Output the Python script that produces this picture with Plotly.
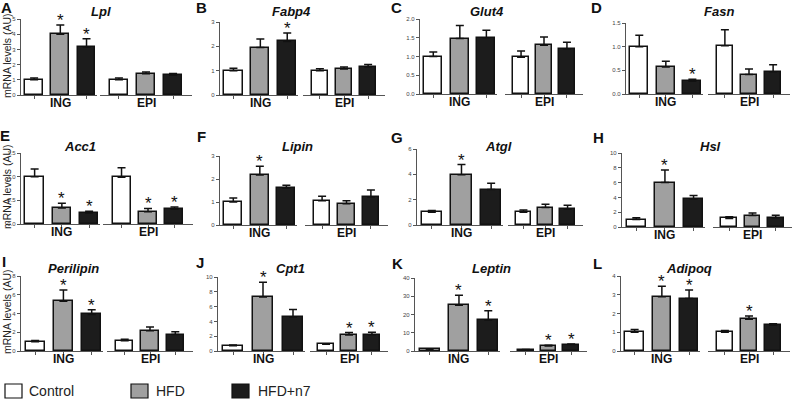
import plotly.graph_objects as go

W, H = 795, 406

genes = ["Lpl", "Fabp4", "Glut4", "Fasn", "Acc1", "Lipin", "Atgl", "Hsl", "Perilipin", "Cpt1", "Leptin", "Adipoq"]
letters = ["A", "B", "C", "D", "E", "F", "G", "H", "I", "J", "K", "L"]
groups = ["Control", "HFD", "HFD+n7"]
tissues = ["ING", "EPI"]

# mean values [ING(Control,HFD,HFD+n7), EPI(Control,HFD,HFD+n7)]
ing_vals = [
    [1.0, 4.0, 3.15], [1.0, 1.95, 2.2], [1.0, 1.48, 1.5], [1.0, 0.57, 0.27],
    [1.0, 0.34, 0.23], [1.0, 2.17, 1.6], [1.0, 3.97, 2.8], [1.0, 6.0, 3.75],
    [1.0, 5.3, 3.9], [0.7, 7.3, 4.6], [1.0, 25.0, 17.0], [1.0, 2.9, 2.8],
]
ing_err = [
    [0.12, 0.6, 0.55], [0.1, 0.35, 0.35], [0.12, 0.35, 0.2], [0.24, 0.12, 0.04],
    [0.16, 0.1, 0.04], [0.17, 0.38, 0.13], [0.15, 0.8, 0.5], [0.25, 1.7, 0.5],
    [0.12, 1.2, 0.5], [0.1, 2.0, 1.0], [0.1, 5.5, 5.0], [0.15, 0.55, 0.45],
]
epi_vals = [
    [1.0, 1.4, 1.3], [1.0, 1.07, 1.15], [0.98, 1.3, 1.2], [1.02, 0.41, 0.47],
    [0.99, 0.26, 0.31], [1.05, 0.92, 1.22], [1.0, 1.38, 1.25], [1.15, 1.55, 1.25],
    [1.1, 2.15, 1.75], [0.9, 2.15, 2.2], [0.7, 2.7, 3.5], [1.0, 1.7, 1.38],
]
epi_err = [
    [0.12, 0.12, 0.12], [0.08, 0.08, 0.1], [0.17, 0.22, 0.18], [0.34, 0.12, 0.15],
    [0.2, 0.07, 0.05], [0.2, 0.13, 0.3], [0.18, 0.25, 0.3], [0.25, 0.35, 0.35],
    [0.15, 0.4, 0.3], [0.08, 0.35, 0.35], [0.1, 0.5, 0.4], [0.1, 0.17, 0.08],
]
# significance stars (1 = star)
ing_sig = [
    [0, 1, 1], [0, 0, 1], [0, 0, 0], [0, 0, 1], [0, 1, 1], [0, 1, 0],
    [0, 1, 0], [0, 1, 0], [0, 1, 1], [0, 1, 0], [0, 1, 1], [0, 1, 1],
]
epi_sig = [
    [0, 0, 0], [0, 0, 0], [0, 0, 0], [0, 0, 0], [0, 1, 1], [0, 0, 0],
    [0, 0, 0], [0, 0, 0], [0, 0, 0], [0, 1, 1], [0, 1, 1], [0, 1, 0],
]
y_max = [5, 3, 2.0, 1.5, 1.5, 3, 6, 10, 8, 10, 40, 4]
y_ticks = [
    [0, 1, 2, 3, 4, 5], [0, 1, 2, 3], [0, 0.5, 1, 1.5, 2], [0, 0.5, 1, 1.5],
    [0, 0.5, 1, 1.5], [0, 1, 2, 3], [0, 2, 4, 6], [0, 2, 4, 6, 8, 10],
    [0, 2, 4, 6, 8], [0, 2, 4, 6, 8, 10], [0, 10, 20, 30, 40], [0, 1, 2, 3, 4],
]
y_ticktext = [
    None, None, ["0.0", "0.5", "1.0", "1.5", "2.0"], ["0.0", "0.5", "1.0", "1.5"],
    ["0.0", "0.5", "1.0", "1.5"], None, None, None, None, None, None, None,
]

# pixel layout: (top, bottom, ING x0, ING x1, EPI x0, EPI x1)
boxes = [
    (19, 95, 21, 97, 100, 192), (22, 95, 220, 298, 303, 385),
    (19, 94, 420, 497, 505, 583), (23, 94, 626, 703, 708, 790),
    (153, 224, 21, 100, 103, 193), (156, 225, 220, 297, 305, 388),
    (149, 225, 417, 503, 508, 583), (153, 227, 622, 705, 713, 792),
    (276, 351, 21, 103, 107, 193), (277, 351, 218, 305, 310, 388),
    (278, 351, 415, 500, 510, 587), (276, 351, 621, 700, 708, 790),
]
title_pos = [(101, 12), (291, 12), (487, 12), (719, 12), (80, 146), (297, 146),
             (498, 146), (710, 146), (73, 268), (290, 268), (491, 268), (689, 268)]
letter_pos = [(6, 7), (201, 8), (396, 8), (596, 8), (5, 135), (201, 136),
              (397, 137), (598, 137), (4, 261), (200, 262), (397, 263), (597, 263)]
ytitle_y = {0: 56, 4: 187, 8: 312}

colors = ["#ffffff", "#a0a0a0", "#1c1c1c"]
FONT = "Liberation Sans, Arial, sans-serif"
AX = "#555555"

def px(x):
    return x / W

def py(y):
    return 1 - y / H

fig = go.Figure()
layout = {}
annotations = []

def note(x, y, text, size, xref="paper", yref="paper", **kw):
    d = dict(x=x, y=y, xref=xref, yref=yref, text=text, showarrow=False,
             xanchor=kw.pop("xanchor", "center"), yanchor=kw.pop("yanchor", "middle"),
             font=dict(family=FONT, size=size, color=kw.pop("color", "#111111")))
    d.update(kw)
    annotations.append(d)

for p in range(12):
    top, bot, ix0, ix1, ex0, ex1 = boxes[p]
    yi = p + 1
    xi_ing = 2 * p + 1
    xi_epi = 2 * p + 2
    ykey = "yaxis" if yi == 1 else f"yaxis{yi}"
    yref = "y" if yi == 1 else f"y{yi}"
    for xi, vals, errs, sigs, (x0, x1), rng in [
        (xi_ing, ing_vals[p], ing_err[p], ing_sig[p], (ix0, ix1), [-0.5, 2.4]),
        (xi_epi, epi_vals[p], epi_err[p], epi_sig[p], (ex0, ex1), [-0.7, 2.7]),
    ]:
        xkey = "xaxis" if xi == 1 else f"xaxis{xi}"
        xref = "x" if xi == 1 else f"x{xi}"
        fig.add_trace(go.Bar(
            x=[0, 1, 2], y=vals, width=0.68,
            marker=dict(color=colors, line=dict(color="#111111", width=1.5)),
            error_y=dict(type="data", array=errs, arrayminus=[0, 0, 0], symmetric=False,
                         color="#111111", thickness=1.5, width=4),
            xaxis=xref, yaxis=yref, showlegend=False, hoverinfo="skip",
        ))
        layout[xkey] = dict(
            domain=[px(x0), px(x1)], range=rng, anchor=yref,
            showgrid=False, zeroline=False, showline=True, linecolor=AX, linewidth=1.2,
            tickvals=[0, 1, 2], ticktext=["", "", ""], ticks="outside", ticklen=3,
            tickcolor=AX, tickwidth=1, fixedrange=True,
        )
        for k in range(3):
            if sigs[k]:
                note(k, vals[k] + errs[k], "*", 17, xref=xref, yref=yref,
                     yanchor="bottom", yshift=-7)
        lbl = "ING" if xi == xi_ing else "EPI"
        note(1, py(bot + 8), f"<b>{lbl}</b>", 12, xref=xref)
    yax = dict(
        domain=[py(bot), py(top)], range=[0, y_max[p]], anchor=("x" if xi_ing == 1 else f"x{xi_ing}"),
        showgrid=False, zeroline=False, showline=True, linecolor=AX, linewidth=1.2,
        tickvals=y_ticks[p], ticks="outside", ticklen=3, tickcolor=AX, tickwidth=1,
        tickfont=dict(family=FONT, size=6, color="#444444"), fixedrange=True,
    )
    if y_ticktext[p] is not None:
        yax["ticktext"] = y_ticktext[p]
    layout[ykey] = yax
    tx, ty = title_pos[p]
    note(px(tx), py(ty), f"<b><i>{genes[p]}</i></b>", 13)
    lx, ly = letter_pos[p]
    note(px(lx), py(ly), f"<b>{letters[p]}</b>", 15)
    if p in ytitle_y:
        note(px(7), py(ytitle_y[p]), "mRNA levels (AU)", 10.5, textangle=-90, color="#222222")

# legend
legend_items = [("Control", colors[0], 5, 27), ("HFD", colors[1], 131, 154), ("HFD+n7", colors[2], 232, 256)]
shapes = []
for name, col, bx, tx in legend_items:
    shapes.append(dict(type="rect", xref="paper", yref="paper",
                       x0=px(bx), x1=px(bx + 17), y0=py(398), y1=py(384),
                       fillcolor=col, line=dict(color="#111111", width=1.2)))
    note(px(tx), py(391), name, 14, xanchor="left", color="#222222")

fig.update_layout(
    width=W, height=H, margin=dict(l=0, r=0, t=0, b=0, autoexpand=False),
    paper_bgcolor="white", plot_bgcolor="white",
    bargap=0, annotations=annotations, shapes=shapes, **layout,
)
fig.write_html("out.html", config={"displayModeBar": False},
               post_script="document.body.style.margin='0';document.body.style.overflow='hidden';")
